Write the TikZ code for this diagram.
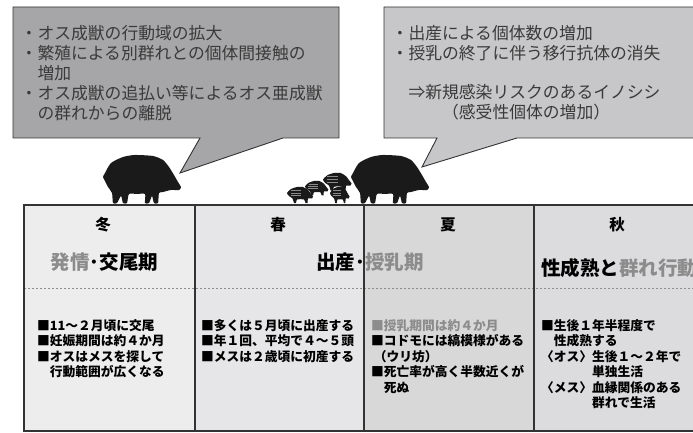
\documentclass[tikz,border=0pt]{standalone}
\usepackage{fontspec}
\newfontfamily\jp{Noto Sans CJK JP}

\definecolor{linecol}{HTML}{333333}
\definecolor{inkcol}{HTML}{3A3A3A}
\definecolor{mutecol}{HTML}{8C8C8C}
\definecolor{callA}{HTML}{A6A6A8}
\definecolor{callB}{HTML}{C7C7C9}
\definecolor{winfill}{HTML}{EDEDED}
\definecolor{sprfill}{HTML}{E6E6E8}
\definecolor{sumfill}{HTML}{D8D8D8}
\definecolor{autfill}{HTML}{DCDCDE}
\definecolor{boarcol}{HTML}{1A1A1A}
\definecolor{stripecol}{HTML}{8A8A8A}

\begin{document}
\begin{tikzpicture}[x=1pt,y=-1pt,
    balloon/.style={draw=linecol,line width=0.9pt},
    note/.style={font=\jp\fontsize{16.8}{20}\selectfont,text=inkcol,align=left,anchor=north west,inner sep=0pt},
    season/.style={font=\jp\bfseries\fontsize{15.5}{16}\selectfont,inner sep=0pt},
    period/.style={font=\jp\bfseries\fontsize{19.5}{20}\selectfont,inner sep=0pt},
    facts/.style={font=\jp\bfseries\fontsize{12.75}{15.5}\selectfont,align=left,anchor=north west,inner sep=0pt},
    divider/.style={linecol,line width=1.1pt},
    split/.style={mutecol,line width=0.9pt,dash pattern=on 2pt off 2pt},
    boar/.pic={
      \fill[boarcol] plot[smooth cycle,tension=0.4] coordinates {(2,18) (8,8) (20,2) (32,0) (50,1) (60,5) (66,12)
        (71,20) (75,27) (78,32) (76,35) (68,35) (60,37) (56,38) (55,48) (51,48) (49,41) (46,48) (42,48) (42,39)
        (34,39) (26,39) (24,48) (20,48) (18,41) (14,48) (10,48) (9,38) (5,32) (2,26) (0,22)};
    },
    piglet/.pic={
      \fill[boarcol] plot[smooth cycle,tension=0.4] coordinates {(0,6) (4,2) (10,0) (16,0) (21,3) (24,7) (26,9.5)
        (25,11.5) (21,11.5) (20.5,16) (18.5,16) (17,12.5) (10,12.5) (9,16) (7,16) (5.5,11.5) (2,9)};
      \draw[stripecol,line width=0.9pt] (4,3.5) -- (14,3.5) (3.5,6) -- (14,6) (3.5,8.5) -- (14,8.5);
    }]

  \useasboundingbox (0,0) rectangle (693,433);
  \clip (0,0) rectangle (693,433);

  % balloons
  \coordinate (tipA) at (180,173);
  \coordinate (tipB) at (422,167);
  \path[balloon,fill=callA] (13,7) -- (339,7) -- (339,138) -- (283,138) -- (tipA) -- (200,138) -- (13,138) -- cycle;
  \path[balloon,fill=callB] (384,7) -- (700,7) -- (700,138) -- (517,138) -- (tipB) -- (437,138) -- (384,138) -- cycle;

  \node[note] (RSKA) at (20.5,25) {・オス成獣の行動域の拡大\\・繁殖による別群れとの個体間接触の\\\hspace*{1em}増加\\
    ・オス成獣の追払い等によるオス亜成獣\\\hspace*{1em}の群れからの離脱};
  \node[note] (RSKB) at (391.5,25) {・出産による個体数の増加\\・授乳の終了に伴う移行抗体の消失\\[19pt]
    \hspace*{1em}⇒新規感染リスクのあるイノシシ\\\hspace*{3em}（感受性個体の増加）};

  % seasons table
  \fill[winfill] (24,205) rectangle (195,431);
  \fill[sprfill] (195,205) rectangle (364,431);
  \fill[sumfill] (364,205) rectangle (534,431);
  \fill[autfill] (534,205) rectangle (700,431);
  \draw[split] (24,288) -- (700,288);
  \draw[divider] (700,205) -- (24,205) -- (24,431) -- (700,431);
  \foreach \x in {195,364,534}
    \draw[divider] (\x,205) -- (\x,431);

  \node[season] (WIN) at (103,225) {冬};
  \node[season] (SPR) at (278,225) {春};
  \node[season] (SUM) at (448,225) {夏};
  \node[season] (AUT) at (617,225) {秋};

  \node[period] (WINP) at (104.5,262) {{\color{mutecol}発情}･交尾期};
  \node[period] (SSP)  at (370,262)   {出産･{\color{mutecol}授乳期}};
  \node[period,anchor=west] (AUTP) at (541,268) {性成熟と{\color{mutecol}群れ行動}};

  \node[facts] (WINF) at (37,319) {■11～２月頃に交尾\\■妊娠期間は約４か月\\■オスはメスを探して\\\hspace*{1em}行動範囲が広くなる};
  \node[facts] (SPRF) at (201,319) {■多くは５月頃に出産する\\■年１回、平均で４～５頭\\■メスは２歳頃に初産する};
  \node[facts] (SUMF) at (371,319) {{\color{mutecol}■授乳期間は約４か月}\\■コドモには縞模様がある\\\hspace*{0.2em}（ウリ坊）\\
    ■死亡率が高く半数近くが\\\hspace*{1em}死ぬ};
  \node[facts] (AUTF) at (541,319) {■生後１年半程度で\\\hspace*{1em}性成熟する\\〈オス〉生後１～２年で\\\hspace*{4em}単独生活\\
    〈メス〉血縁関係のある\\\hspace*{4em}群れで生活};

  % boars on the table
  \pic at (103,155) {boar};
  \pic at (351,155) {boar};
  \pic[scale=1.1] at (323,173) {piglet};
  \pic[scale=0.9] at (305,181) {piglet};
  \pic at (287,187) {piglet};
  \pic[xscale=0.75] at (330,187) {piglet};
\end{tikzpicture}
\end{document}
